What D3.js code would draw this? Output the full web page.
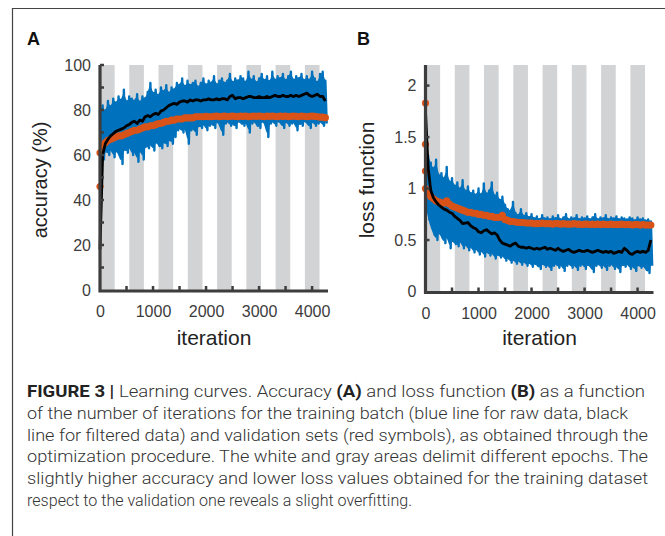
<!DOCTYPE html>
<html>
<head>
<meta charset="utf-8">
<script src="https://cdn.jsdelivr.net/npm/d3@7"></script>
<style>
body { margin: 0; background: #fff; }
svg { display: block; }
.tick text { font-family: "Liberation Sans", Arial, sans-serif; font-size: 16px; fill: #3c3c3c; }
.title { font-family: "Liberation Sans", Arial, sans-serif; font-size: 21px; fill: #222; }
.caption { font-family: "Roboto", "Liberation Sans", sans-serif; font-weight: 300; font-size: 16.5px; fill: #333; }
</style>
</head>
<body>
<svg id="fig" width="665" height="536"></svg>
<script>
var width = 665, height = 536

// iteration grid of the sampled curves (every 50 iterations)
var iters = d3.range(0, 4300, 50)

// epoch boundaries (gray / white alternate)
var epochEdges = [0, 276, 552, 828, 1104, 1380, 1656, 1932, 2208, 2484, 2760, 3036, 3312, 3588, 3864, 4140]

// panel A : accuracy (%)
var accRawHi = [80, 82, 79, 84, 81, 85,
    83, 86, 84, 89, 83, 86,
    85, 84, 87, 83, 86, 85,
    88, 92, 87, 89, 86, 90,
    88, 91, 87, 90, 89, 92,
    91, 94, 90, 93, 91, 92,
    93, 90, 92, 94, 91, 93,
    92, 95, 91, 93, 94, 92,
    93, 96, 92, 94, 93, 95,
    94, 92, 97, 93, 95, 92,
    94, 96, 93, 95, 92, 97,
    93, 95, 94, 96, 93, 95,
    97, 93, 95, 94, 96, 93,
    95, 93, 97, 94, 92, 96,
    97, 93]
var accRawLo = [48, 58, 62, 60, 63, 59,
    62, 60, 56, 63, 61, 64,
    60, 62, 57, 63, 58, 64,
    63, 65, 62, 66, 64, 63,
    66, 64, 67, 65, 68, 71,
    72, 70, 73, 65, 71, 72,
    69, 73, 72, 74, 71, 73,
    74, 72, 75, 73, 69, 74,
    75, 73, 74, 72, 75, 74,
    73, 75, 70, 74, 75, 73,
    72, 75, 74, 68, 74, 75,
    73, 75, 74, 72, 75, 73,
    74, 75, 71, 74, 73, 75,
    74, 72, 75, 73, 74, 75,
    73, 74]
var accFilt = [18, 60, 65, 67, 68.5, 69.5,
    70.5, 71, 71.5, 72, 73, 73.5,
    74.5, 75, 74, 75.5, 75, 77,
    77.5, 77, 78, 78.5, 78, 79.5,
    80, 81, 82, 82.5, 83, 82.5,
    83.5, 84, 84, 83.5, 84.5, 84,
    84.5, 84.5, 84, 84.5, 84.5, 85,
    84.5, 84.5, 85, 84.5, 85, 85,
    84.5, 86, 86.5, 85, 85.5, 85.5,
    85, 85.5, 86, 86, 85.5, 85.5,
    86, 85.5, 85.5, 86, 85.5, 86,
    86.5, 86, 86, 86.5, 86, 86,
    86.5, 86, 86.5, 86, 86.5, 87,
    87.5, 86.5, 86, 86.5, 87, 86,
    86, 84]
var accVal = [61, 64, 65.5, 66.5, 67, 67.5,
    68, 68.5, 68.5, 69, 69.5, 70,
    70.5, 71, 71, 71.5, 72, 72.5,
    72.5, 73, 73, 73.5, 74, 74,
    74.5, 75, 75, 75.5, 75.5, 76,
    76, 76, 76.5, 76.5, 76.5, 76.5,
    77, 77, 77, 77, 77.2, 77,
    77, 77.2, 77.3, 77, 77.2, 77.3,
    77, 77.2, 77.3, 77.2, 77, 77.3,
    77.2, 77.3, 77, 77.2, 77.3, 77.2,
    77.3, 77.2, 77, 77.3, 77.2, 77.3,
    77.2, 77, 77.3, 77.2, 77.3, 77,
    77.2, 77.3, 77.2, 77, 77.3, 77.2,
    77, 77.2, 77.3, 77.2, 77, 76.8,
    76.8, 76.6]
var accValStart = [46]

// panel B : loss function
var lossRawHi = [1.40, 1.32, 1.25, 1.18, 1.28, 1.12,
    1.15, 1.08, 1.21, 1.05, 1.10, 1.02,
    1.06, 0.98, 1.08, 0.96, 1.02, 0.95,
    0.98, 0.93, 1.00, 0.92, 1.05, 0.94,
    0.98, 1.06, 0.92, 0.96, 0.88, 0.92,
    0.84, 0.80, 0.78, 0.87, 0.76, 0.74,
    0.80, 0.73, 0.76, 0.72, 0.75, 0.71,
    0.73, 0.70, 0.74, 0.71, 0.72, 0.70,
    0.73, 0.71, 0.74, 0.70, 0.72, 0.75,
    0.70, 0.72, 0.71, 0.74, 0.70, 0.72,
    0.71, 0.73, 0.70, 0.72, 0.75, 0.70,
    0.72, 0.71, 0.74, 0.70, 0.72, 0.71,
    0.73, 0.70, 0.72, 0.71, 0.70, 0.72,
    0.71, 0.69, 0.72, 0.70, 0.71, 0.69,
    0.70, 0.68]
var lossRawLo = [0.85, 0.70, 0.62, 0.55, 0.50, 0.58,
    0.52, 0.47, 0.55, 0.42, 0.50, 0.46,
    0.44, 0.50, 0.42, 0.46, 0.40, 0.44,
    0.38, 0.42, 0.36, 0.40, 0.34, 0.39,
    0.35, 0.38, 0.32, 0.36, 0.33, 0.35,
    0.30, 0.33, 0.28, 0.31, 0.27, 0.30,
    0.26, 0.29, 0.25, 0.28, 0.24, 0.27,
    0.25, 0.22, 0.27, 0.24, 0.26, 0.21,
    0.25, 0.27, 0.23, 0.26, 0.20, 0.25,
    0.27, 0.23, 0.26, 0.21, 0.25, 0.27,
    0.22, 0.26, 0.24, 0.19, 0.25, 0.27,
    0.23, 0.26, 0.21, 0.25, 0.27, 0.22,
    0.25, 0.19, 0.26, 0.24, 0.27, 0.22,
    0.25, 0.20, 0.26, 0.23, 0.25, 0.21,
    0.18, 0.25]
var lossFilt = [1.75, 1.20, 0.98, 0.91, 0.87, 0.84,
    0.82, 0.80, 0.79, 0.77, 0.76, 0.73,
    0.71, 0.69, 0.66, 0.665, 0.67, 0.64,
    0.62, 0.61, 0.58, 0.57, 0.59, 0.60,
    0.58, 0.56, 0.57, 0.55, 0.50, 0.47,
    0.46, 0.45, 0.44, 0.46, 0.47, 0.44,
    0.43, 0.43, 0.42, 0.43, 0.42, 0.41,
    0.42, 0.41, 0.42, 0.43, 0.41, 0.42,
    0.41, 0.40, 0.42, 0.40, 0.39, 0.40,
    0.41, 0.39, 0.38, 0.39, 0.40, 0.39,
    0.39, 0.40, 0.39, 0.38, 0.39, 0.40,
    0.39, 0.38, 0.39, 0.38, 0.39, 0.37,
    0.38, 0.39, 0.38, 0.42, 0.40, 0.37,
    0.36, 0.38, 0.39, 0.38, 0.39, 0.38,
    0.40, 0.50]
var lossVal = [1.00, 0.95, 0.92, 0.90, 0.88, 0.87,
    0.86, 0.86, 0.88, 0.85, 0.83, 0.82,
    0.81, 0.80, 0.79, 0.78, 0.77, 0.77,
    0.76, 0.76, 0.75, 0.75, 0.74, 0.74,
    0.73, 0.73, 0.72, 0.72, 0.72, 0.74,
    0.70, 0.69, 0.68, 0.68, 0.675, 0.67,
    0.67, 0.67, 0.665, 0.665, 0.665, 0.66,
    0.66, 0.66, 0.665, 0.66, 0.66, 0.66,
    0.655, 0.66, 0.66, 0.655, 0.66, 0.655,
    0.655, 0.655, 0.66, 0.655, 0.655, 0.65,
    0.655, 0.655, 0.65, 0.655, 0.65, 0.655,
    0.65, 0.655, 0.65, 0.65, 0.655, 0.65,
    0.65, 0.65, 0.655, 0.65, 0.65, 0.65,
    0.645, 0.65, 0.65, 0.645, 0.65, 0.645,
    0.645, 0.645]
var lossValStart = [1.83, 1.43, 1.17]

// tick values
var xTicks = [500, 1000, 1500, 2000, 2500, 3000, 3500, 4000]
var xLabels = [0, 1000, 2000, 3000, 4000]
var accTicks = [10, 20, 30, 40, 50, 60, 70, 80, 90, 100]
var accLabels = [0, 20, 40, 60, 80, 100]
var lossTicks = [0.5, 1, 1.5, 2]
var lossLabels = [0, 0.5, 1, 1.5, 2]

var blue = "#0072bd", red = "#d95319", gray = "#d2d3d5", axisColour = "#3d3d3d"

var svg = d3.select("#fig")

// frame
svg.append("path")
    .attr("d", "M12.5," + height + "V8.5H" + width)
    .attr("fill", "none")
    .attr("stroke", "#444")
    .attr("stroke-width", 1.2)

function panel(opt) {
    var x = d3.scaleLinear().domain([0, 4300]).range([opt.left, opt.left + 228])
    var y = d3.scaleLinear().domain(opt.yDomain).range([opt.bottom, 65])
    var g = svg.append("g")

    // epochs
    var bands = []
    for (var i = 0; i < epochEdges.length; i += 2) {
        bands.push([epochEdges[i], epochEdges[i + 1]])
    }
    g.selectAll(".band")
        .data(bands)
        .enter()
        .append("rect")
        .attr("x", d => x(d[0]))
        .attr("width", d => x(d[1]) - x(d[0]))
        .attr("y", y(opt.yDomain[1]))
        .attr("height", opt.bottom - y(opt.yDomain[1]))
        .attr("fill", gray)

    // raw training batch: solid core between a smoothed band, zigzag between read high and low values
    var raw = []
    opt.hi.forEach(function(d, i) {
        raw.push([iters[i], d])
        raw.push([iters[i] + 25, opt.lo[i]])
    })
    var line = d3.line()
        .x(d => x(d[0]))
        .y(d => y(d[1]))
    var area = d3.area()
        .x((d, i) => x(iters[i]))
        .y0((d, i) => y(opt.lo[i]))
        .y1(d => y(d))
        .curve(d3.curveBasis)
    g.append("path")
        .attr("d", area(opt.hi))
        .attr("fill", blue)
    g.append("path")
        .attr("d", line(raw))
        .attr("fill", "none")
        .attr("stroke", blue)
        .attr("stroke-width", 2.4)
        .attr("stroke-linejoin", "round")

    // validation symbols
    var pts = opt.val.map((d, i) => [iters[i], d])
    opt.valStart.forEach(d => pts.unshift([0, d]))
    g.selectAll(".val")
        .data(pts)
        .enter()
        .append("circle")
        .attr("cx", d => x(d[0]))
        .attr("cy", d => y(d[1]))
        .attr("r", 3.6)
        .attr("fill", red)

    // filtered training batch
    g.append("path")
        .attr("d", line(opt.filt.map((d, i) => [iters[i], d])))
        .attr("fill", "none")
        .attr("stroke", "#000")
        .attr("stroke-width", 2.8)
        .attr("stroke-linejoin", "round")

    // axes
    var xAxis = g.append("g")
        .attr("transform", "translate(0," + (opt.bottom + 1) + ")")
        .call(d3.axisBottom(x).tickValues(xLabels).tickSize(0).tickPadding(15).tickFormat(d3.format("d")))
    xAxis.select(".domain").remove()
    g.append("g")
        .selectAll("line")
        .data(xTicks)
        .enter()
        .append("line")
        .attr("x1", d => x(d)).attr("x2", d => x(d))
        .attr("y1", opt.bottom).attr("y2", opt.bottom - 4)
        .attr("stroke", axisColour)
        .attr("stroke-width", 2.5)

    var yAxis = g.append("g")
        .attr("transform", "translate(" + (opt.left - 1) + ",0)")
        .call(d3.axisLeft(y).tickValues(opt.labels).tickSize(0).tickPadding(8).tickFormat(d => d))
    yAxis.select(".domain").remove()
    g.append("g")
        .selectAll("line")
        .data(opt.ticks)
        .enter()
        .append("line")
        .attr("y1", d => y(d)).attr("y2", d => y(d))
        .attr("x1", opt.left).attr("x2", opt.left + 4)
        .attr("stroke", axisColour)
        .attr("stroke-width", 2.5)

    g.append("path")
        .attr("d", "M" + opt.left + ",65V" + (opt.bottom + 1) + "H" + (opt.left + 228))
        .attr("fill", "none")
        .attr("stroke", axisColour)
        .attr("stroke-width", 3.2)

    // titles
    g.append("text")
        .attr("class", "title")
        .attr("x", opt.left + 114)
        .attr("y", 345)
        .attr("text-anchor", "middle")
        .text("iteration")
    g.append("text")
        .attr("class", "title")
        .attr("transform", "translate(" + opt.yTitleX + ",180) rotate(-90)")
        .attr("text-anchor", "middle")
        .style("font-size", opt.yTitleSize + "px")
        .text(opt.yTitle)
    g.append("text")
        .attr("x", opt.letterX)
        .attr("y", 45)
        .style("font", "bold 18px 'Liberation Sans', Arial, sans-serif")
        .attr("fill", "#111")
        .text(opt.letter)
}

panel({
    left: 100, bottom: 290, yDomain: [0, 100],
    hi: accRawHi, lo: accRawLo, filt: accFilt, val: accVal, valStart: accValStart,
    ticks: accTicks, labels: accLabels,
    yTitle: "accuracy (%)", yTitleX: 47, yTitleSize: 20, letter: "A", letterX: 27
})
panel({
    left: 425.5, bottom: 291.5, yDomain: [0, 2.2],
    hi: lossRawHi, lo: lossRawLo, filt: lossFilt, val: lossVal, valStart: lossValStart,
    ticks: lossTicks, labels: lossLabels,
    yTitle: "loss function", yTitleX: 374, yTitleSize: 21, letter: "B", letterX: 357
})

// caption
var captionLines = [
    [["FIGURE 3 | ", true], ["Learning curves. Accuracy ", false], ["(A)", true], [" and loss function ", false], ["(B)", true], [" as a function", false]],
    [["of the number of iterations for the training batch (blue line for raw data, black", false]],
    [["line for filtered data) and validation sets (red symbols), as obtained through the", false]],
    [["optimization procedure. The white and gray areas delimit different epochs. The", false]],
    [["slightly higher accuracy and lower loss values obtained for the training dataset", false]],
    [["respect to the validation one reveals a slight overfitting.", false]]
]
var captionWidths = [618, 601, 621, 621, 621, 385]

var caption = svg.append("g")
captionLines.forEach(function(parts, i) {
    var t = caption.append("text")
        .attr("class", "caption")
        .attr("x", 27)
        .attr("y", 397 + i * 21.8)
        .attr("textLength", captionWidths[i])
        .attr("lengthAdjust", "spacingAndGlyphs")
    parts.forEach(function(p) {
        t.append("tspan")
            .attr("font-weight", p[1] ? "bold" : null)
            .attr("fill", p[1] ? "#222" : null)
            .text(p[0])
    })
})
</script>
</body>
</html>
